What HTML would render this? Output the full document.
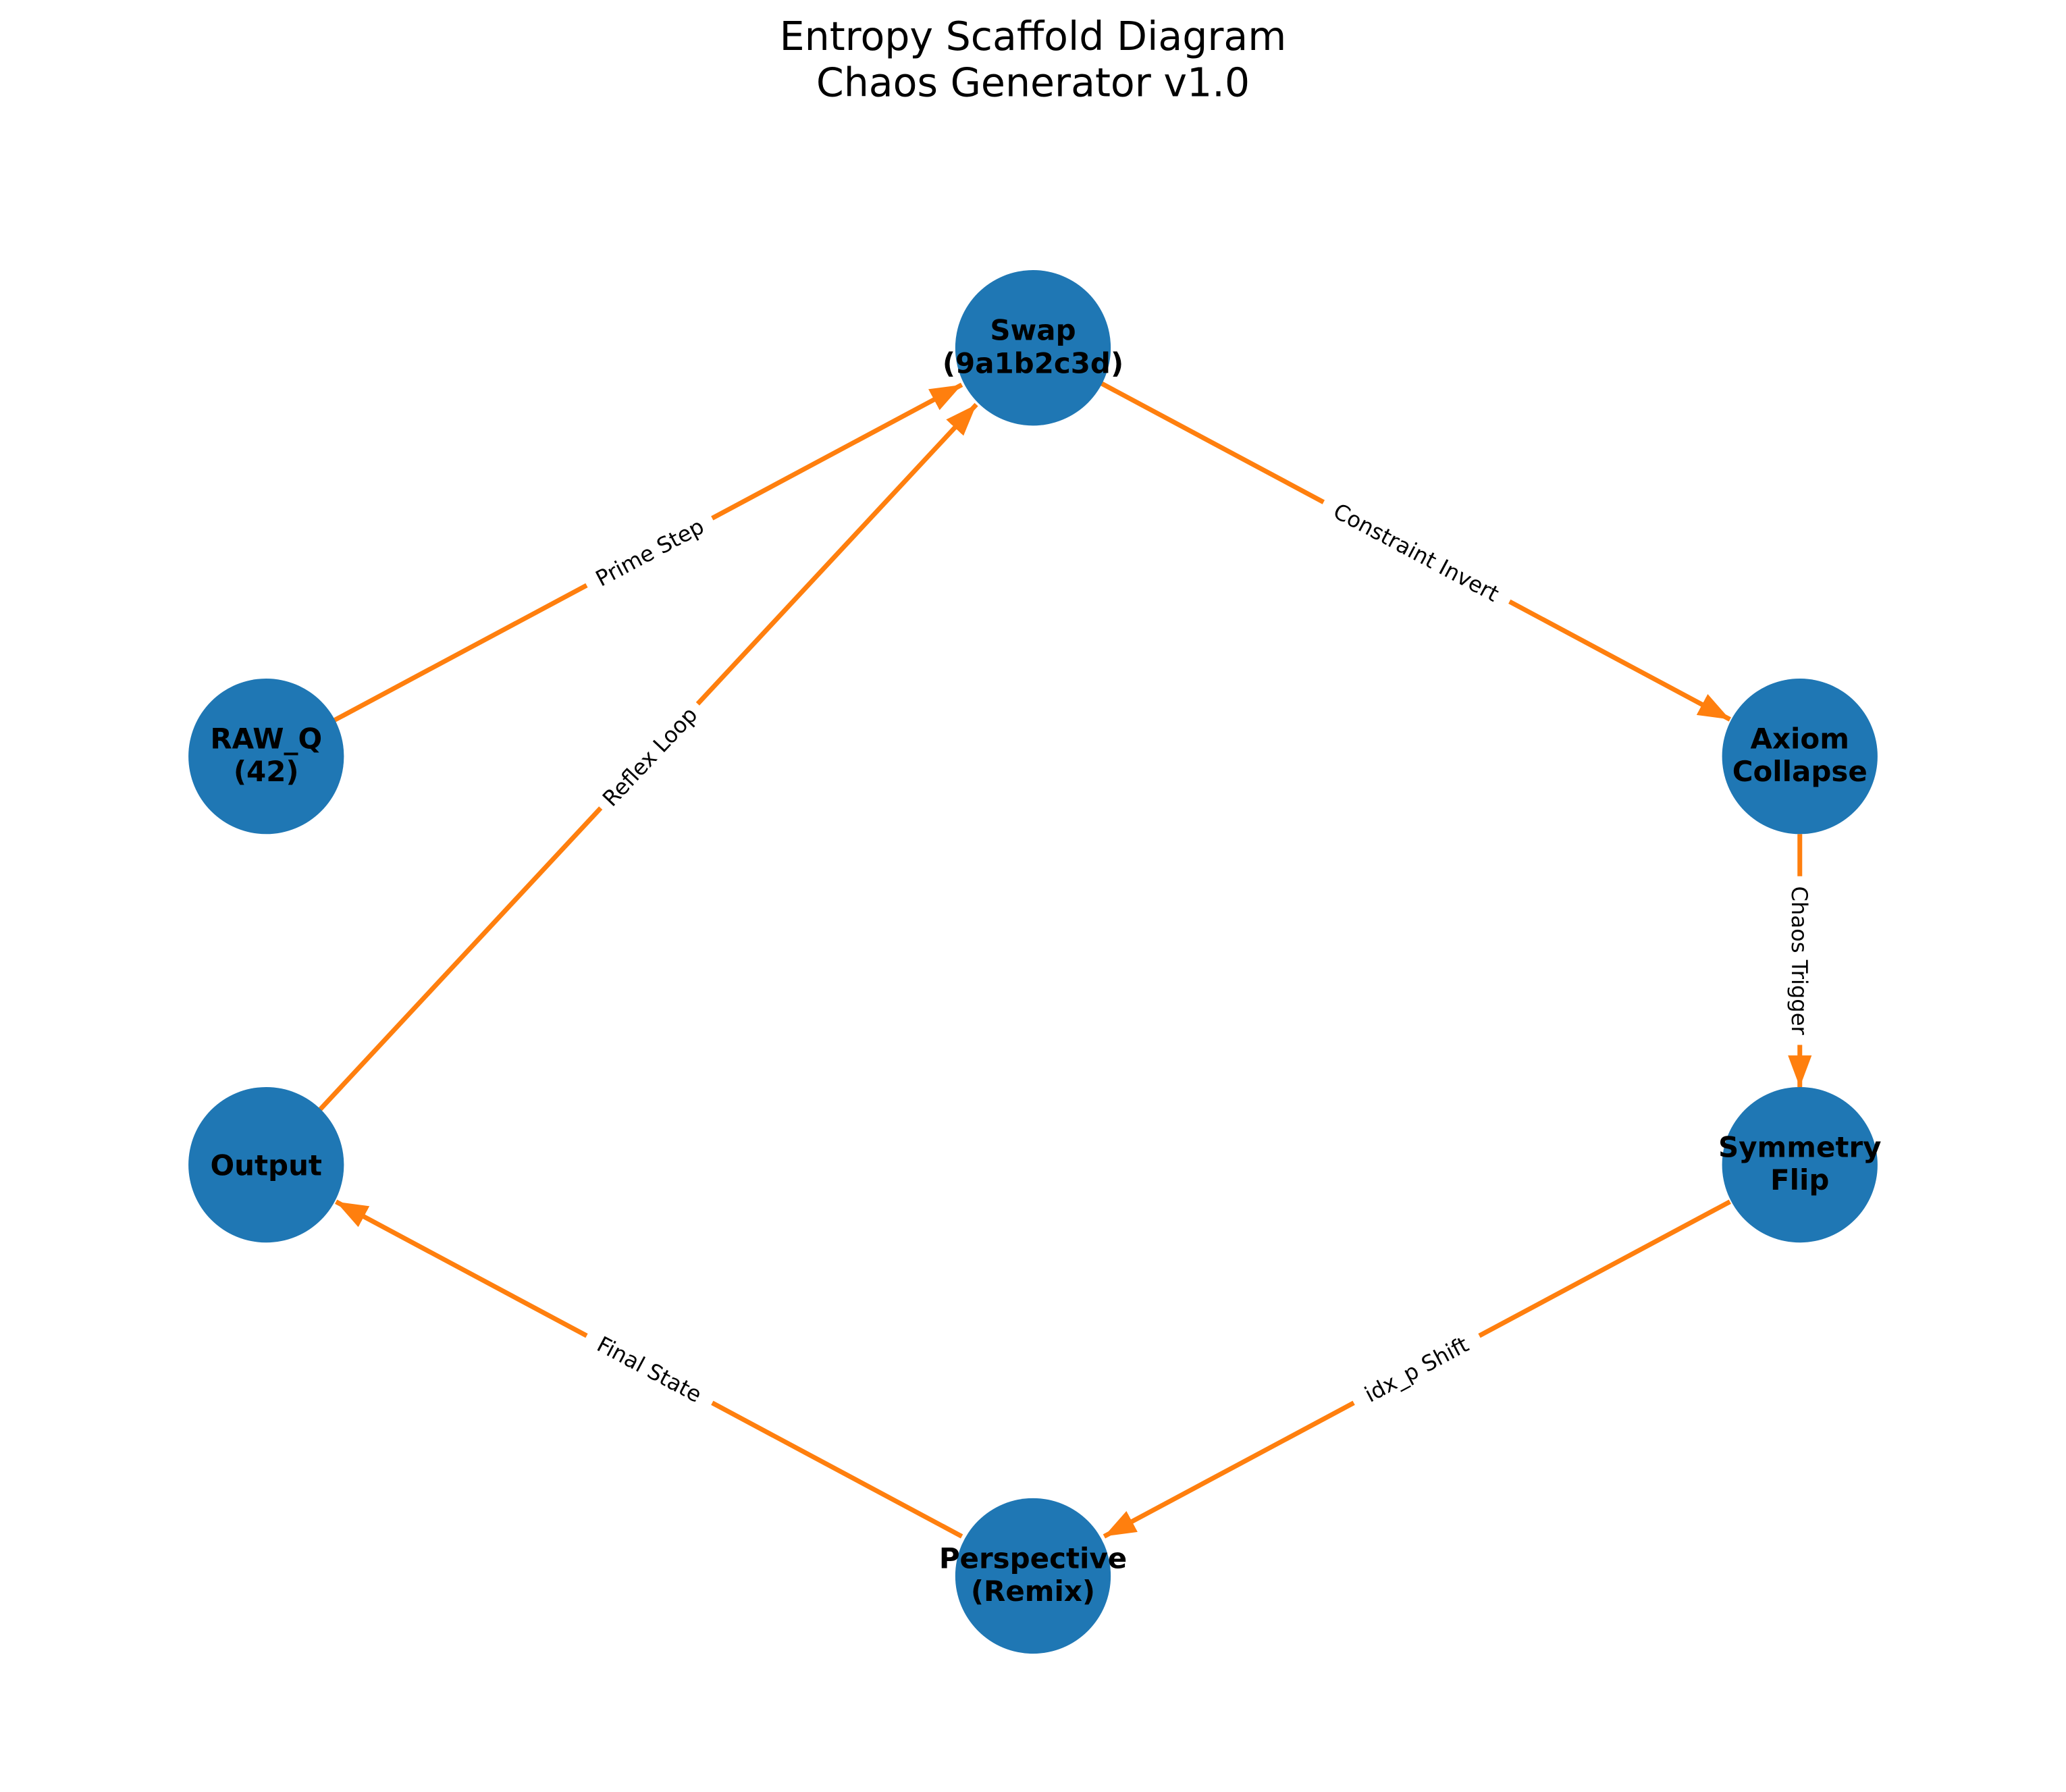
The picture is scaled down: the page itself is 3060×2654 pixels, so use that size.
<!DOCTYPE html>
<html><head><meta charset="utf-8"><style>
html,body{margin:0;padding:0;background:#fff;}
svg{display:block;}
text{font-family:"DejaVu Sans","Liberation Sans",sans-serif;}
</style></head><body>
<svg width="3060" height="2654" viewBox="0 0 1568 1360" xmlns="http://www.w3.org/2000/svg">
<defs>
<marker id="a" markerUnits="userSpaceOnUse" markerWidth="26" markerHeight="22" refX="24" refY="11" orient="auto">
<path d="M0,2 L24,11 L0,20 Z" fill="#ff7f0e"/>
</marker>
</defs>
<rect width="1568" height="1360" fill="#fff"/>
<text x="784" y="38" font-size="30" text-anchor="middle" fill="#000">Entropy Scaffold Diagram</text>
<text x="784" y="73" font-size="30" text-anchor="middle" fill="#000">Chaos Generator v1.0</text>
<g stroke="#ff7f0e" stroke-width="3.6" fill="none" marker-end="url(#a)">
<line x1="253" y1="547" x2="730" y2="292"/>
<line x1="242" y1="843" x2="741" y2="307"/>
<line x1="836" y1="291" x2="1313" y2="546"/>
<line x1="1366" y1="633" x2="1366" y2="825"/>
<line x1="1313" y1="912" x2="838" y2="1166"/>
<line x1="730" y1="1166" x2="255" y2="912"/>
</g>
<g font-size="16.5" fill="#000" text-anchor="middle">
<g transform="translate(493,419) rotate(-28)"><rect x="-54" y="-12" width="108" height="24" fill="#fff"/><text y="6">Prime Step</text></g>
<g transform="translate(493,574) rotate(-46.8)"><rect x="-54" y="-12" width="108" height="24" fill="#fff"/><text y="6">Reflex Loop</text></g>
<g transform="translate(1075,419) rotate(28)"><rect x="-80" y="-12" width="160" height="24" fill="#fff"/><text y="6">Constraint Invert</text></g>
<g transform="translate(1366,729) rotate(90)"><rect x="-64" y="-12" width="128" height="24" fill="#fff"/><text y="6">Chaos Trigger</text></g>
<g transform="translate(1075,1039) rotate(-28)"><rect x="-54" y="-12" width="108" height="24" fill="#fff"/><text y="6">idx_p Shift</text></g>
<g transform="translate(493,1039) rotate(28)"><rect x="-54" y="-12" width="108" height="24" fill="#fff"/><text y="6">Final State</text></g>
</g>
<g fill="#1f77b4">
<circle cx="784" cy="264" r="59"/>
<circle cx="202" cy="574" r="59"/>
<circle cx="1366" cy="574" r="59"/>
<circle cx="202" cy="884" r="59"/>
<circle cx="1366" cy="884" r="59"/>
<circle cx="784" cy="1196" r="59"/>
</g>
<g font-size="21.5" font-weight="bold" fill="#000" text-anchor="middle">
<text x="784" y="258">Swap</text><text x="784" y="283">(9a1b2c3d)</text>
<text x="202" y="568">RAW_Q</text><text x="202" y="593">(42)</text>
<text x="1366" y="568">Axiom</text><text x="1366" y="593">Collapse</text>
<text x="202" y="892">Output</text>
<text x="1366" y="878">Symmetry</text><text x="1366" y="903">Flip</text>
<text x="784" y="1190">Perspective</text><text x="784" y="1215">(Remix)</text>
</g>
</svg>
</body></html>
